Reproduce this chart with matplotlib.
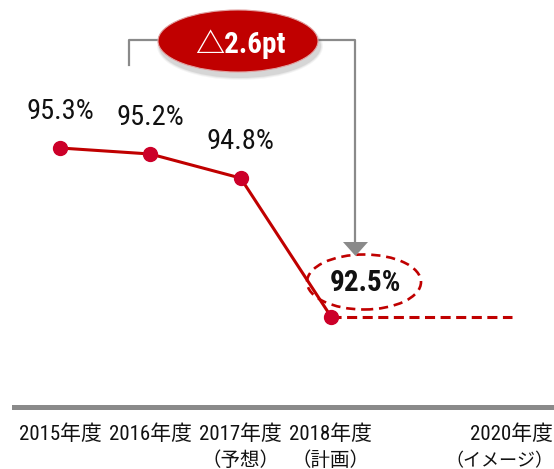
import matplotlib
matplotlib.use('Agg')
import matplotlib.pyplot as plt
import matplotlib.transforms as mtransforms
from matplotlib.patches import Ellipse, Polygon
from matplotlib.lines import Line2D

# ---- data ----
years = ['2015年度', '2016年度', '2017年度', '2018年度', '2020年度']
notes = ['', '', '（予想）', '（計画）', '（イメージ）']
tick_pos = [0, 1, 2, 3, 5]
actual_x = [0, 1, 2, 3]
actual_values = [95.3, 95.2, 94.8, 92.5]
target_x = [3, 5]
target_values = [92.5, 92.5]
value_labels = ['95.3%', '95.2%', '94.8%']
highlight_label = '92.5%'
diff_label = '△2.6pt'

W, H = 554, 469
FONTS = ['Roboto Condensed', 'Noto Sans CJK JP', 'DejaVu Sans']
plt.rcParams['font.family'] = FONTS

fig = plt.figure(figsize=(W / 100, H / 100), dpi=100)
ax = fig.add_axes([0, 0, 1, 1])
ax.set_xlim(-0.664, 5.469)
ax.set_ylim(89.968, 97.758)

def px(x, y):
    return (x / W, 1 - y / H)

RED = '#C00000'
MRED = '#CC0029'
GRAY = '#8a8a8a'

# spines / axis
for s in ['top', 'left', 'right']:
    ax.spines[s].set_visible(False)
ax.spines['bottom'].set_position(('axes', 1 - 407 / H))
ax.spines['bottom'].set_linewidth(3.6)
ax.spines['bottom'].set_color(GRAY)
ax.spines['bottom'].set_bounds(-0.509, 5.469)
ax.set_yticks([])
ax.set_xticks(tick_pos)
ax.set_xticklabels(years, fontsize=15, color='#111111')
ax.tick_params(axis='x', length=0, pad=12.5)

# second line of category labels
blend = mtransforms.blended_transform_factory(ax.transData, ax.transAxes)
for x, n in zip(tick_pos, notes):
    if not n:
        continue
    size = 14 if len(n) <= 4 else 13
    shift = 0 if len(n) <= 4 else -12
    t = ax.text(x, 1 - 466 / H, n, transform=blend, ha='center', va='baseline',
                fontsize=size, color='#111111')
    if shift:
        t.set_transform(blend + mtransforms.ScaledTranslation(shift / 100, 0,
                                                              fig.dpi_scale_trans))

# actual line
ax.plot(actual_x, actual_values, color=RED, lw=2.2, zorder=3)
ax.plot(actual_x, actual_values, ls='none', marker='o', ms=10,
        color=MRED, zorder=4)
# target dashed line
ax.plot(target_x, target_values, color=RED, lw=2.2,
        ls=(0, (3.3, 1.8)), zorder=3)

# value labels
for x, v, lab in zip(actual_x, actual_values, value_labels):
    ax.annotate(lab, (x, v), xytext=(0, 26), textcoords='offset points',
                ha='center', va='center', fontsize=20.5, color='#111111')

ax.annotate(highlight_label, (actual_x[3], actual_values[3]), xytext=(25, 24),
            textcoords='offset points', ha='center', va='center',
            fontsize=21, fontweight='bold', color='#111111', zorder=6)

# dashed ellipse around highlight
ax.add_patch(Ellipse(px(364, 282), 114 / W, 55 / H, transform=ax.transAxes,
                     fill=False, ec=RED, lw=1.9, ls=(0, (3.5, 2.2)), zorder=5))

# bracket with arrow
pts = [px(129, 65), px(129, 40), px(355, 40), px(355, 243)]
ax.add_line(Line2D([p[0] for p in pts], [p[1] for p in pts],
                   transform=ax.transAxes, color=GRAY, lw=1.6, zorder=2))
ax.add_patch(Polygon([px(343, 242), px(368, 242), px(355.5, 256)],
                     closed=True, transform=ax.transAxes, fc=GRAY, ec='none',
                     zorder=6))

# red ellipse with shadow
for i, a in enumerate([0.06, 0.08, 0.12]):
    grow = (3 - i) * 2
    ax.add_patch(Ellipse(px(240, 46), (160 + grow) / W, (62 + grow) / H,
                         transform=ax.transAxes, fc='#555555', ec='none',
                         alpha=a, zorder=7))
ax.add_patch(Ellipse(px(238, 41), 160 / W, 62 / H, transform=ax.transAxes,
                     fc=RED, ec='#e0a0a0', lw=0.8, zorder=8))
ax.text(*px(240, 44), diff_label, transform=ax.transAxes, ha='center',
        va='center', fontsize=21, fontweight='bold', color='white', zorder=9)

fig.savefig('out.png', dpi=100)
